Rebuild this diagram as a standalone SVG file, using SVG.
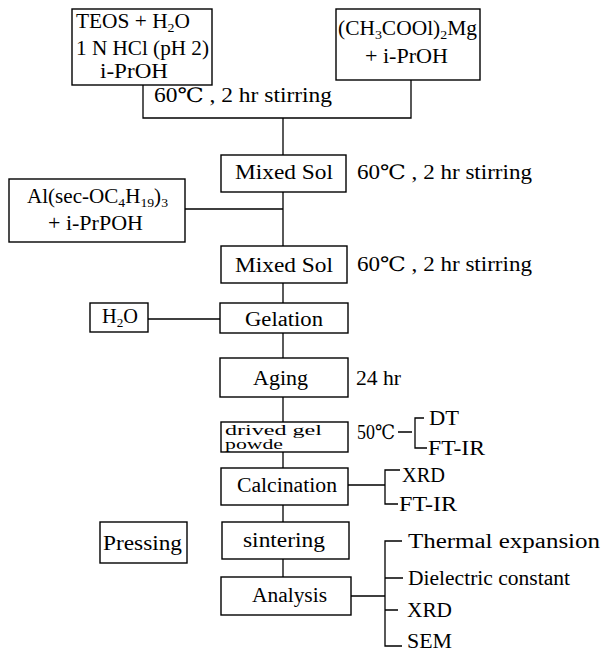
<svg xmlns="http://www.w3.org/2000/svg" width="603" height="654" viewBox="0 0 603 654">
<style>
rect{fill:#fff;stroke:#000;stroke-width:1.4}
.c{fill:none;stroke:#000;stroke-width:1.3}
text{font-family:"Liberation Serif","Times New Roman","DejaVu Serif",serif;font-size:20px;fill:#000}
.s{font-size:13px}
.t{font-size:14px}
</style>
<rect x="0" y="0" width="603" height="654" style="stroke:none;fill:#fff"/>
<g id="connectors">
<path class="c" d="M143 85V118H411V80"/>
<path class="c" d="M283 118V155"/>
<path class="c" d="M283 192V246M185 209H283"/>
<path class="c" d="M283 283V303"/>
<path class="c" d="M148 319H220"/>
<path class="c" d="M283 333V358"/>
<path class="c" d="M283 397V422"/>
<path class="c" d="M283 452V468"/>
<path class="c" d="M283 505V522"/>
<path class="c" d="M283 559V577"/>
<path class="c" d="M398 432H412M424 418H415V448H427"/>
<path class="c" d="M348 485H385M400 470H385V504H398"/>
<path class="c" d="M351 596H385M402 541H385V646H402M385 578H403M385 610H398"/>
</g>
<g id="teos">
<rect x="72" y="9" width="140" height="76"/>
<text x="76" y="28" textLength="114" lengthAdjust="spacingAndGlyphs">TEOS + H<tspan class="s" dy="4">2</tspan><tspan dy="-4">O</tspan></text>
<text x="76" y="55" textLength="133" lengthAdjust="spacingAndGlyphs">1 N HCl (pH 2)</text>
<text x="100" y="78" textLength="68" lengthAdjust="spacingAndGlyphs">i-PrOH</text>
</g>
<g id="mg">
<rect x="336" y="9" width="144" height="71"/>
<text x="338" y="35" textLength="139" lengthAdjust="spacingAndGlyphs">(CH<tspan class="s" dy="4">3</tspan><tspan dy="-4">COOl)</tspan><tspan class="s" dy="4">2</tspan><tspan dy="-4">Mg</tspan></text>
<text x="365" y="63" textLength="83" lengthAdjust="spacingAndGlyphs">+ i-PrOH</text>
</g>
<g id="stir1">
<text x="154" y="102" textLength="178" lengthAdjust="spacingAndGlyphs">60℃ ,  2 hr  stirring</text>
</g>
<g id="mixed1">
<rect x="221" y="155" width="125" height="37"/>
<text x="235" y="179" textLength="98" lengthAdjust="spacingAndGlyphs">Mixed  Sol</text>
<text x="357" y="179" textLength="175" lengthAdjust="spacingAndGlyphs">60℃ ,  2 hr  stirring</text>
</g>
<g id="al">
<rect x="9" y="179" width="176" height="63"/>
<text x="27" y="203" textLength="141" lengthAdjust="spacingAndGlyphs">Al(sec-OC<tspan class="s" dy="4">4</tspan><tspan dy="-4">H</tspan><tspan class="s" dy="4">19</tspan><tspan dy="-4">)</tspan><tspan class="s" dy="4">3</tspan></text>
<text x="48" y="230" textLength="95" lengthAdjust="spacingAndGlyphs">+ i-PrPOH</text>
</g>
<g id="mixed2">
<rect x="221" y="246" width="126" height="37"/>
<text x="235" y="272" textLength="98" lengthAdjust="spacingAndGlyphs">Mixed  Sol</text>
<text x="357" y="271" textLength="175" lengthAdjust="spacingAndGlyphs">60℃ ,  2 hr  stirring</text>
</g>
<g id="h2o">
<rect x="90" y="303" width="58" height="29"/>
<text x="102" y="323" textLength="36" lengthAdjust="spacingAndGlyphs">H<tspan class="s" dy="4">2</tspan><tspan dy="-4">O</tspan></text>
</g>
<g id="gelation">
<rect x="220" y="303" width="128" height="30"/>
<text x="245" y="326" textLength="78" lengthAdjust="spacingAndGlyphs">Gelation</text>
</g>
<g id="aging">
<rect x="220" y="358" width="128" height="39"/>
<text x="253" y="385" textLength="55" lengthAdjust="spacingAndGlyphs">Aging</text>
<text x="356" y="385" textLength="45" lengthAdjust="spacingAndGlyphs">24 hr</text>
</g>
<g id="dried">
<rect x="221" y="422" width="127" height="30"/>
<text class="t" x="225" y="435" textLength="97" lengthAdjust="spacingAndGlyphs">drived  gel</text>
<text class="t" x="225" y="449" textLength="58" lengthAdjust="spacingAndGlyphs">powde</text>
<text x="357" y="439" textLength="38" lengthAdjust="spacingAndGlyphs">50℃</text>
<text x="429" y="425" textLength="30" lengthAdjust="spacingAndGlyphs">DT</text>
<text x="428" y="455" textLength="57" lengthAdjust="spacingAndGlyphs">FT-IR</text>
</g>
<g id="calcination">
<rect x="221" y="468" width="127" height="37"/>
<text x="237" y="492" textLength="100" lengthAdjust="spacingAndGlyphs">Calcination</text>
<text x="402" y="482" textLength="43" lengthAdjust="spacingAndGlyphs">XRD</text>
<text x="399" y="511" textLength="58" lengthAdjust="spacingAndGlyphs">FT-IR</text>
</g>
<g id="pressing">
<rect x="100" y="522" width="87" height="41"/>
<text x="103" y="550" textLength="79" lengthAdjust="spacingAndGlyphs">Pressing</text>
</g>
<g id="sintering">
<rect x="222" y="522" width="127" height="37"/>
<text x="243" y="547" textLength="82" lengthAdjust="spacingAndGlyphs">sintering</text>
</g>
<g id="analysis">
<rect x="221" y="577" width="130" height="38"/>
<text x="252" y="602" textLength="75" lengthAdjust="spacingAndGlyphs">Analysis</text>
<text x="408" y="548" textLength="192" lengthAdjust="spacingAndGlyphs">Thermal  expansion</text>
<text x="408" y="585" textLength="162" lengthAdjust="spacingAndGlyphs">Dielectric  constant</text>
<text x="407" y="617" textLength="45" lengthAdjust="spacingAndGlyphs">XRD</text>
<text x="407" y="648" textLength="45" lengthAdjust="spacingAndGlyphs">SEM</text>
</g>
</svg>
